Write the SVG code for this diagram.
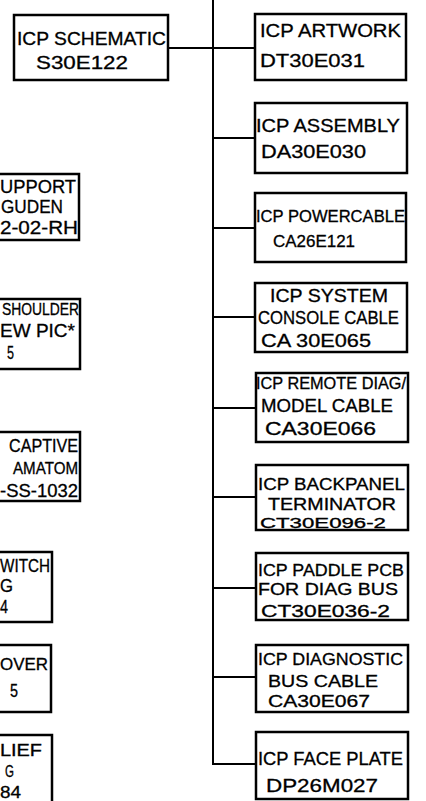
<svg xmlns="http://www.w3.org/2000/svg" width="426" height="801" viewBox="0 0 426 801">
<style>
.box{fill:#fff;stroke:#000;stroke-width:2.5}
.ln{fill:none;stroke:#000;stroke-width:2}
text{font-family:"Liberation Sans","DejaVu Sans",sans-serif;fill:#000;font-size:18px;stroke:#000;stroke-width:0.3}
.s{font-size:16px}
.t{font-size:14px}
</style>
<rect width="426" height="801" fill="#fff"/>
<g id="connectors">
<path class="ln" d="M213 0V765"/>
<path class="ln" d="M168 48H213"/>
<path class="ln" d="M213 48H255M213 138H255M213 228H255M213 317H255M213 408H256M213 497H256M213 588H256M213 677H256M213 764H256"/>
</g>
<g id="icp-schematic">
<rect class="box" x="14" y="15" width="154" height="65"/>
<text x="17" y="45" font-size="20" textLength="149" lengthAdjust="spacingAndGlyphs">ICP SCHEMATIC</text>
<text x="36" y="69" font-size="20" textLength="92" lengthAdjust="spacingAndGlyphs">S30E122</text>
</g>
<g id="support">
<rect class="box" x="-5" y="174" width="84" height="66"/>
<text x="0" y="193" textLength="76" lengthAdjust="spacingAndGlyphs">UPPORT</text>
<text x="1" y="213" textLength="62" lengthAdjust="spacingAndGlyphs">GUDEN</text>
<text x="0" y="234" textLength="78" lengthAdjust="spacingAndGlyphs">2-02-RH</text>
</g>
<g id="shoulder">
<rect class="box" x="-5" y="299" width="85" height="70"/>
<text x="2" y="315" class="s" textLength="77" lengthAdjust="spacingAndGlyphs">SHOULDER</text>
<text x="0" y="337" textLength="75" lengthAdjust="spacingAndGlyphs">EW PIC*</text>
<text x="7" y="359" textLength="7" lengthAdjust="spacingAndGlyphs">5</text>
</g>
<g id="captive">
<rect class="box" x="-5" y="432" width="85" height="69"/>
<text x="9" y="452" textLength="69" lengthAdjust="spacingAndGlyphs">CAPTIVE</text>
<text x="13" y="474" class="s" textLength="65" lengthAdjust="spacingAndGlyphs">AMATOM</text>
<text x="0" y="497" textLength="78" lengthAdjust="spacingAndGlyphs">-SS-1032</text>
</g>
<g id="switch">
<rect class="box" x="-5" y="552" width="57" height="70"/>
<text x="0" y="572" textLength="50" lengthAdjust="spacingAndGlyphs">WITCH</text>
<text x="0" y="592" textLength="13" lengthAdjust="spacingAndGlyphs">G</text>
<text x="0" y="613" textLength="8" lengthAdjust="spacingAndGlyphs">4</text>
</g>
<g id="cover">
<rect class="box" x="-5" y="645" width="56" height="67"/>
<text x="0" y="670" class="s" textLength="48" lengthAdjust="spacingAndGlyphs">OVER</text>
<text x="10" y="697" textLength="8" lengthAdjust="spacingAndGlyphs">5</text>
</g>
<g id="relief">
<rect class="box" x="-5" y="735" width="57" height="80"/>
<text x="0" y="756" class="s" textLength="42" lengthAdjust="spacingAndGlyphs">LIEF</text>
<text x="5" y="777" class="s" textLength="9" lengthAdjust="spacingAndGlyphs">G</text>
<text x="0" y="798" class="s" textLength="21" lengthAdjust="spacingAndGlyphs">84</text>
</g>
<g id="icp-artwork">
<rect class="box" x="255" y="14" width="151" height="66"/>
<text x="260" y="37" textLength="141" lengthAdjust="spacingAndGlyphs">ICP ARTWORK</text>
<text x="260" y="67" textLength="105" lengthAdjust="spacingAndGlyphs">DT30E031</text>
</g>
<g id="icp-assembly">
<rect class="box" x="255" y="103" width="152" height="70"/>
<text x="256" y="132" textLength="144" lengthAdjust="spacingAndGlyphs">ICP ASSEMBLY</text>
<text x="261" y="158" textLength="105" lengthAdjust="spacingAndGlyphs">DA30E030</text>
</g>
<g id="icp-power-cable">
<rect class="box" x="255" y="193" width="151" height="69"/>
<text x="256" y="222" class="s" textLength="149" lengthAdjust="spacingAndGlyphs">ICP POWERCABLE</text>
<text x="273" y="247" class="s" textLength="82" lengthAdjust="spacingAndGlyphs">CA26E121</text>
</g>
<g id="icp-system-console-cable">
<rect class="box" x="255" y="283" width="152" height="69"/>
<text x="270" y="302" textLength="118" lengthAdjust="spacingAndGlyphs">ICP SYSTEM</text>
<text x="258" y="324" textLength="141" lengthAdjust="spacingAndGlyphs">CONSOLE CABLE</text>
<text x="261" y="347" textLength="110" lengthAdjust="spacingAndGlyphs">CA 30E065</text>
</g>
<g id="icp-remote-diag">
<rect class="box" x="256" y="373" width="152" height="69"/>
<text x="256" y="389" class="s" textLength="150" lengthAdjust="spacingAndGlyphs">ICP REMOTE DIAG/</text>
<text x="261" y="412" textLength="132" lengthAdjust="spacingAndGlyphs">MODEL CABLE</text>
<text x="265" y="435" textLength="111" lengthAdjust="spacingAndGlyphs">CA30E066</text>
</g>
<g id="icp-backpanel">
<rect class="box" x="256" y="465" width="152" height="65"/>
<text x="258" y="490" class="s" textLength="147" lengthAdjust="spacingAndGlyphs">ICP BACKPANEL</text>
<text x="268" y="510" class="s" textLength="128" lengthAdjust="spacingAndGlyphs">TERMINATOR</text>
<text x="260" y="528" class="t" textLength="126" lengthAdjust="spacingAndGlyphs">CT30E096-2</text>
</g>
<g id="icp-paddle-pcb">
<rect class="box" x="256" y="553" width="152" height="67"/>
<text x="258" y="576" class="s" textLength="146" lengthAdjust="spacingAndGlyphs">ICP PADDLE PCB</text>
<text x="258" y="595" class="s" textLength="140" lengthAdjust="spacingAndGlyphs">FOR DIAG BUS</text>
<text x="261" y="617" class="s" textLength="129" lengthAdjust="spacingAndGlyphs">CT30E036-2</text>
</g>
<g id="icp-diagnostic-bus-cable">
<rect class="box" x="256" y="645" width="152" height="67"/>
<text x="258" y="665" class="s" textLength="145" lengthAdjust="spacingAndGlyphs">ICP DIAGNOSTIC</text>
<text x="268" y="687" class="s" textLength="110" lengthAdjust="spacingAndGlyphs">BUS CABLE</text>
<text x="268" y="707" class="s" textLength="102" lengthAdjust="spacingAndGlyphs">CA30E067</text>
</g>
<g id="icp-face-plate">
<rect class="box" x="256" y="732" width="152" height="67"/>
<text x="258" y="765" textLength="145" lengthAdjust="spacingAndGlyphs">ICP FACE PLATE</text>
<text x="266" y="792" textLength="112" lengthAdjust="spacingAndGlyphs">DP26M027</text>
</g>
</svg>
